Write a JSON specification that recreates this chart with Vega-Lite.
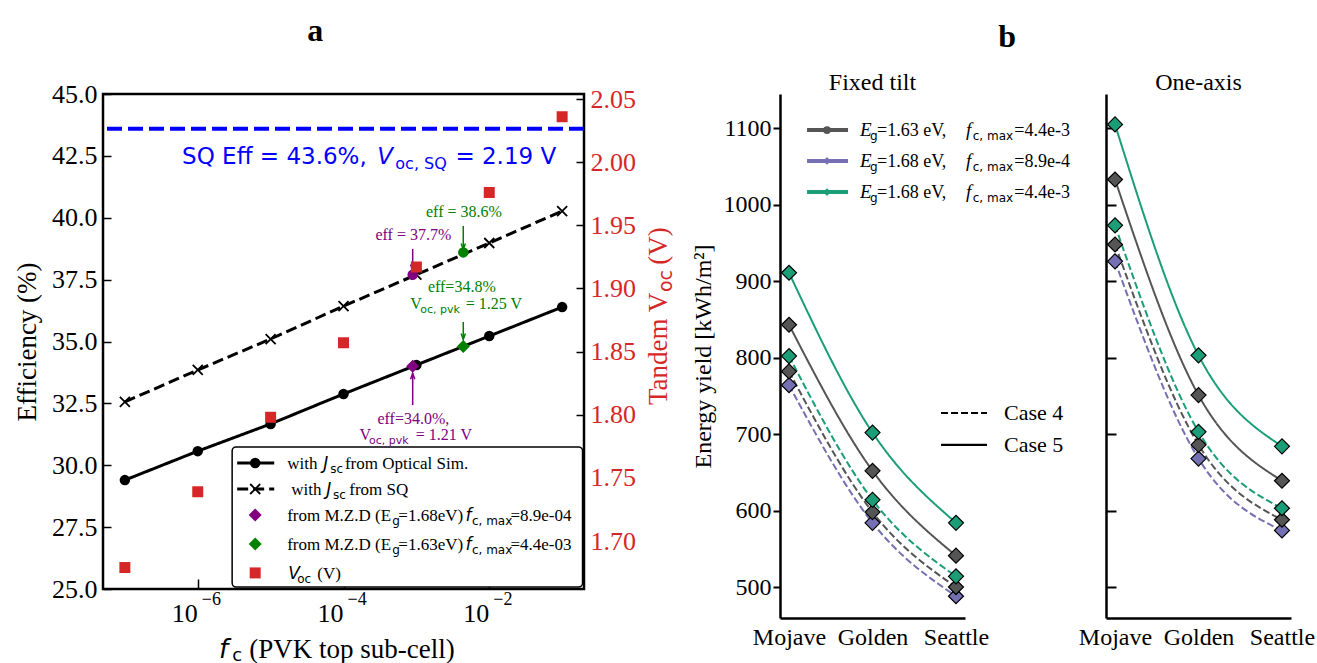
{
  "$schema": "https://vega.github.io/schema/vega-lite/v6.json",
  "padding": {"left": 12, "top": 13, "right": 5, "bottom": 5},
  "bounds": "flush",
  "spacing": 196,
  "config": {
    "font": "Liberation Serif",
    "view": {"stroke": null},
    "axis": {"grid": false, "labelColor": "black", "tickColor": "black", "domainColor": "black", "titleColor": "black", "titleFontWeight": "normal", "labelFont": "Liberation Serif", "titleFont": "Liberation Serif"}
  },
  "resolve": {"scale": {"color": "independent", "strokeDash": "independent", "shape": "independent"}},
  "datasets": {
    "main": [
      {"fc": 1e-7, "optical": 29.40, "sq": 32.56, "voc": 1.679},
      {"fc": 1e-6, "optical": 30.57, "sq": 33.85, "voc": 1.739},
      {"fc": 1e-5, "optical": 31.67, "sq": 35.10, "voc": 1.798},
      {"fc": 1e-4, "optical": 32.88, "sq": 36.43, "voc": 1.857},
      {"fc": 1e-3, "optical": 34.05, "sq": 37.70, "voc": 1.917},
      {"fc": 1e-2, "optical": 35.22, "sq": 38.98, "voc": 1.976},
      {"fc": 1e-1, "optical": 36.39, "sq": 40.27, "voc": 2.036}
    ],
    "mzd": [
      {"fc": 8.9e-4, "grp": "1.68", "optical": 34.0, "sq": 37.7},
      {"fc": 4.4e-3, "grp": "1.63", "optical": 34.8, "sq": 38.6}
    ],
    "arrows": [
      {"fc": 8.9e-4, "grp": "1.68", "eff": 38.74, "eff2": 37.87, "dir": "down"},
      {"fc": 4.4e-3, "grp": "1.63", "eff": 39.67, "eff2": 38.72, "dir": "down"},
      {"fc": 4.4e-3, "grp": "1.63", "eff": 35.79, "eff2": 35.08, "dir": "down"},
      {"fc": 8.9e-4, "grp": "1.68", "eff": 32.43, "eff2": 33.72, "dir": "up"}
    ],
    "legLines": [
      {"method": "optical", "fc": 3.475e-6, "fc2": 1.12e-5, "eff": 30.09},
      {"method": "sq", "fc": 3.475e-6, "fc2": 1.12e-5, "eff": 29.04}
    ],
    "legMarks": [
      {"m": "optical", "fc": 6.14e-6, "eff": 30.09},
      {"m": "sq", "fc": 6.14e-6, "eff": 29.04},
      {"m": "1.68", "fc": 6.14e-6, "eff": 27.99},
      {"m": "1.63", "fc": 6.14e-6, "eff": 26.82},
      {"m": "voc", "fc": 6.14e-6, "eff": 25.65}
    ],
    "txtA": [
      {"blk": "sq", "k": "n", "t": "SQ Eff = 43.6%,", "fc": 6.1e-7, "eff": 42.17},
      {"blk": "sq", "k": "i", "t": "V", "fc": 2.909e-4, "eff": 42.17},
      {"blk": "sq", "k": "s", "t": "oc, SQ", "fc": 5.14e-4, "eff": 41.97},
      {"blk": "sq", "k": "n", "t": "= 2.19 V", "fc": 3.43e-3, "eff": 42.17},
      {"blk": "ann", "grp": "1.68", "k": "c", "t": "eff = 37.7%", "fc": 9.08e-4, "eff": 39.10},
      {"blk": "ann", "grp": "1.63", "k": "c", "t": "eff = 38.6%", "fc": 4.49e-3, "eff": 40.03},
      {"blk": "ann", "grp": "1.63", "k": "c", "t": "eff=34.8%", "fc": 4.2e-3, "eff": 37.0},
      {"blk": "ann", "grp": "1.63", "k": "n", "t": "V", "fc": 8.26e-4, "eff": 36.31},
      {"blk": "ann", "grp": "1.63", "k": "s", "t": "oc, pvk", "fc": 1.132e-3, "eff": 36.15},
      {"blk": "ann", "grp": "1.63", "k": "n", "t": "= 1.25 V", "fc": 4.75e-3, "eff": 36.31},
      {"blk": "ann", "grp": "1.68", "k": "c", "t": "eff=34.0%,", "fc": 9.08e-4, "eff": 31.67},
      {"blk": "ann", "grp": "1.68", "k": "n", "t": "V", "fc": 1.663e-4, "eff": 31.02},
      {"blk": "ann", "grp": "1.68", "k": "s", "t": "oc, pvk", "fc": 2.24e-4, "eff": 30.86},
      {"blk": "ann", "grp": "1.68", "k": "n", "t": "= 1.21 V", "fc": 9.77e-4, "eff": 31.02},
      {"blk": "leg", "k": "n", "t": "with", "fc": 1.687e-5, "eff": 29.85},
      {"blk": "leg", "k": "i", "t": "J", "fc": 5.27e-5, "eff": 29.85},
      {"blk": "leg", "k": "s", "t": "sc", "fc": 6.6e-5, "eff": 29.69},
      {"blk": "leg", "k": "n", "t": "from Optical Sim.", "fc": 1.047e-4, "eff": 29.85},
      {"blk": "leg", "k": "n", "t": "with", "fc": 1.914e-5, "eff": 28.80},
      {"blk": "leg", "k": "i", "t": "J", "fc": 5.79e-5, "eff": 28.80},
      {"blk": "leg", "k": "s", "t": "sc", "fc": 7.2e-5, "eff": 28.64},
      {"blk": "leg", "k": "n", "t": "from SQ", "fc": 1.2e-4, "eff": 28.80},
      {"blk": "leg", "k": "n", "t": "from M.Z.D (E", "fc": 1.687e-5, "eff": 27.75},
      {"blk": "leg", "k": "s", "t": "g", "fc": 4.68e-4, "eff": 27.59},
      {"blk": "leg", "k": "n", "t": "=1.68eV)", "fc": 5.65e-4, "eff": 27.75},
      {"blk": "leg", "k": "i", "t": "f", "fc": 4.71e-3, "eff": 27.75},
      {"blk": "leg", "k": "s", "t": "c, max", "fc": 5.78e-3, "eff": 27.59},
      {"blk": "leg", "k": "n", "t": "=8.9e-04", "fc": 1.954e-2, "eff": 27.75},
      {"blk": "leg", "k": "n", "t": "from M.Z.D (E", "fc": 1.687e-5, "eff": 26.58},
      {"blk": "leg", "k": "s", "t": "g", "fc": 4.68e-4, "eff": 26.42},
      {"blk": "leg", "k": "n", "t": "=1.63eV)", "fc": 5.65e-4, "eff": 26.58},
      {"blk": "leg", "k": "i", "t": "f", "fc": 4.71e-3, "eff": 26.58},
      {"blk": "leg", "k": "s", "t": "c, max", "fc": 5.78e-3, "eff": 26.42},
      {"blk": "leg", "k": "n", "t": "=4.4e-03", "fc": 1.954e-2, "eff": 26.58},
      {"blk": "leg", "k": "i", "t": "V", "fc": 1.74e-5, "eff": 25.40},
      {"blk": "leg", "k": "s", "t": "oc", "fc": 2.32e-5, "eff": 25.24},
      {"blk": "leg", "k": "n", "t": "(V)", "fc": 4.37e-5, "eff": 25.40},
      {"blk": "xt", "k": "i", "t": "f", "fc": 1.963e-6, "eff": 22.2},
      {"blk": "xt", "k": "s", "t": "c", "fc": 2.965e-6, "eff": 22.08},
      {"blk": "xt", "k": "n", "t": "(PVK top sub-cell)", "fc": 5.076e-6, "eff": 22.2},
      {"blk": "yt", "k": "n", "t": "Tandem V", "fc": 2.714, "eff": 32.43},
      {"blk": "yt", "k": "s", "t": "oc", "fc": 3.18, "eff": 37.0},
      {"blk": "yt", "k": "n", "t": "(V)", "fc": 2.714, "eff": 38.1},
      {"blk": "tick", "k": "n", "t": "10", "fc": 1e-6, "eff": 23.67},
      {"blk": "tick", "k": "p", "t": "−6", "fc": 1.135e-6, "eff": 24.35},
      {"blk": "tick", "k": "n", "t": "10", "fc": 1e-4, "eff": 23.67},
      {"blk": "tick", "k": "p", "t": "−4", "fc": 1.135e-4, "eff": 24.35},
      {"blk": "tick", "k": "n", "t": "10", "fc": 1e-2, "eff": 23.67},
      {"blk": "tick", "k": "p", "t": "−2", "fc": 1.135e-2, "eff": 24.35},
      {"blk": "title", "k": "n", "t": "a", "fc": 4.09e-5, "eff": 47.14}
    ],
    "yieldB": [
      {"mount": "Fixed tilt", "series": "1.68/8.9e-4", "case": "Case 4", "site": "Mojave", "yield": 764},
      {"mount": "Fixed tilt", "series": "1.68/8.9e-4", "case": "Case 4", "site": "Golden", "yield": 584},
      {"mount": "Fixed tilt", "series": "1.68/8.9e-4", "case": "Case 4", "site": "Seattle", "yield": 488},
      {"mount": "Fixed tilt", "series": "1.63/4.4e-3", "case": "Case 4", "site": "Mojave", "yield": 782},
      {"mount": "Fixed tilt", "series": "1.63/4.4e-3", "case": "Case 4", "site": "Golden", "yield": 598},
      {"mount": "Fixed tilt", "series": "1.63/4.4e-3", "case": "Case 4", "site": "Seattle", "yield": 500},
      {"mount": "Fixed tilt", "series": "1.68/4.4e-3", "case": "Case 4", "site": "Mojave", "yield": 802},
      {"mount": "Fixed tilt", "series": "1.68/4.4e-3", "case": "Case 4", "site": "Golden", "yield": 614},
      {"mount": "Fixed tilt", "series": "1.68/4.4e-3", "case": "Case 4", "site": "Seattle", "yield": 514},
      {"mount": "Fixed tilt", "series": "1.63/4.4e-3", "case": "Case 5", "site": "Mojave", "yield": 843},
      {"mount": "Fixed tilt", "series": "1.63/4.4e-3", "case": "Case 5", "site": "Golden", "yield": 652},
      {"mount": "Fixed tilt", "series": "1.63/4.4e-3", "case": "Case 5", "site": "Seattle", "yield": 541},
      {"mount": "Fixed tilt", "series": "1.68/4.4e-3", "case": "Case 5", "site": "Mojave", "yield": 911},
      {"mount": "Fixed tilt", "series": "1.68/4.4e-3", "case": "Case 5", "site": "Golden", "yield": 702},
      {"mount": "Fixed tilt", "series": "1.68/4.4e-3", "case": "Case 5", "site": "Seattle", "yield": 584},
      {"mount": "One-axis", "series": "1.68/8.9e-4", "case": "Case 4", "site": "Mojave", "yield": 926},
      {"mount": "One-axis", "series": "1.68/8.9e-4", "case": "Case 4", "site": "Golden", "yield": 668},
      {"mount": "One-axis", "series": "1.68/8.9e-4", "case": "Case 4", "site": "Seattle", "yield": 574},
      {"mount": "One-axis", "series": "1.63/4.4e-3", "case": "Case 4", "site": "Mojave", "yield": 948},
      {"mount": "One-axis", "series": "1.63/4.4e-3", "case": "Case 4", "site": "Golden", "yield": 686},
      {"mount": "One-axis", "series": "1.63/4.4e-3", "case": "Case 4", "site": "Seattle", "yield": 588},
      {"mount": "One-axis", "series": "1.68/4.4e-3", "case": "Case 4", "site": "Mojave", "yield": 973},
      {"mount": "One-axis", "series": "1.68/4.4e-3", "case": "Case 4", "site": "Golden", "yield": 703},
      {"mount": "One-axis", "series": "1.68/4.4e-3", "case": "Case 4", "site": "Seattle", "yield": 603},
      {"mount": "One-axis", "series": "1.63/4.4e-3", "case": "Case 5", "site": "Mojave", "yield": 1033},
      {"mount": "One-axis", "series": "1.63/4.4e-3", "case": "Case 5", "site": "Golden", "yield": 751},
      {"mount": "One-axis", "series": "1.63/4.4e-3", "case": "Case 5", "site": "Seattle", "yield": 639},
      {"mount": "One-axis", "series": "1.68/4.4e-3", "case": "Case 5", "site": "Mojave", "yield": 1105},
      {"mount": "One-axis", "series": "1.68/4.4e-3", "case": "Case 5", "site": "Golden", "yield": 803},
      {"mount": "One-axis", "series": "1.68/4.4e-3", "case": "Case 5", "site": "Seattle", "yield": 684}
    ],
    "panelTitles": [
      {"mount": "Fixed tilt", "site": "Golden", "yield": 1150.1},
      {"mount": "One-axis", "site": "Golden", "yield": 1150.1}
    ],
    "legB": [
      {"series": "1.63/4.4e-3", "lx": 0.216, "lx2": 0.707, "lm": 0.455, "yield": 1097.7},
      {"series": "1.68/8.9e-4", "lx": 0.216, "lx2": 0.707, "lm": 0.455, "yield": 1057.2},
      {"series": "1.68/4.4e-3", "lx": 0.216, "lx2": 0.707, "lm": 0.455, "yield": 1016.6}
    ],
    "caseB": [
      {"case": "Case 4", "lx": 1.821, "lx2": 2.372, "yield": 727.6},
      {"case": "Case 5", "lx": 1.821, "lx2": 2.372, "yield": 685.8}
    ],
    "txtB": [
      {"k": "i", "t": "E", "lx": 0.851, "yield": 1089.9},
      {"k": "s", "t": "g", "lx": 0.970, "yield": 1084.7},
      {"k": "n", "t": "=1.63 eV,", "lx": 1.054, "yield": 1089.9},
      {"k": "i", "t": "f", "lx": 2.121, "yield": 1089.9},
      {"k": "s", "t": "c, max", "lx": 2.201, "yield": 1084.7},
      {"k": "n", "t": "=4.4e-3", "lx": 2.699, "yield": 1089.9},
      {"k": "i", "t": "E", "lx": 0.851, "yield": 1049.3},
      {"k": "s", "t": "g", "lx": 0.970, "yield": 1044.1},
      {"k": "n", "t": "=1.68 eV,", "lx": 1.054, "yield": 1049.3},
      {"k": "i", "t": "f", "lx": 2.121, "yield": 1049.3},
      {"k": "s", "t": "c, max", "lx": 2.201, "yield": 1044.1},
      {"k": "n", "t": "=8.9e-4", "lx": 2.699, "yield": 1049.3},
      {"k": "i", "t": "E", "lx": 0.851, "yield": 1008.8},
      {"k": "s", "t": "g", "lx": 0.970, "yield": 1003.6},
      {"k": "n", "t": "=1.68 eV,", "lx": 1.054, "yield": 1008.8},
      {"k": "i", "t": "f", "lx": 2.121, "yield": 1008.8},
      {"k": "s", "t": "c, max", "lx": 2.201, "yield": 1003.6},
      {"k": "n", "t": "=4.4e-3", "lx": 2.699, "yield": 1008.8},
      {"k": "case", "t": "Case 4", "lx": 2.576, "yield": 718.5},
      {"k": "case", "t": "Case 5", "lx": 2.576, "yield": 676.6},
      {"k": "b", "t": "b", "lx": 2.612, "yield": 1206.3}
    ]
  },
  "hconcat": [
    {
      "width": 481,
      "height": 495,
      "view": {"stroke": "black", "strokeWidth": 2.5},
      "layer": [
        {
          "layer": [
            {
              "data": {"values": [{"eff": 43.6}]},
              "mark": {"type": "rule", "color": "blue", "strokeWidth": 4, "strokeDash": [15, 6]},
              "encoding": {
                "y": {"field": "eff", "type": "quantitative", "scale": {"domain": [25, 45], "nice": false, "zero": false},
                  "axis": {"orient": "left", "values": [25, 27.5, 30, 32.5, 35, 37.5, 40, 42.5, 45], "format": ".1f", "tickSize": -8, "tickWidth": 1.5, "labelFontSize": 26, "labelPadding": 14, "title": "Efficiency (%)", "titleFontSize": 27, "titlePadding": 10, "domain": false}}
              }
            },
            {
              "data": {"name": "main"},
              "transform": [{"fold": ["optical", "sq"], "as": ["method", "eff"]}],
              "mark": {"type": "line", "color": "black", "strokeWidth": 3},
              "encoding": {
                "x": {"field": "fc", "type": "quantitative", "scale": {"type": "log", "domain": [5.012e-8, 0.1995], "nice": false},
                  "axis": {"values": [1e-6, 1e-4, 1e-2], "labels": false, "tickSize": -10, "tickWidth": 1.5, "domain": false, "title": null}},
                "y": {"field": "eff", "type": "quantitative"},
                "strokeDash": {"field": "method", "type": "nominal", "scale": {"domain": ["optical", "sq"], "range": [[1, 0], [11, 5]]}, "legend": null}
              }
            },
            {
              "data": {"name": "main"},
              "transform": [{"fold": ["sq"], "as": ["method", "eff"]}],
              "mark": {"type": "point", "shape": "M-1,-1L1,1M-1,1L1,-1", "filled": false, "size": 100, "color": "black", "strokeWidth": 1.8, "opacity": 1},
              "encoding": {"x": {"field": "fc", "type": "quantitative"}, "y": {"field": "eff", "type": "quantitative"}}
            },
            {
              "data": {"name": "main"},
              "transform": [{"fold": ["optical"], "as": ["method", "eff"]}],
              "mark": {"type": "circle", "size": 110, "color": "black", "opacity": 1},
              "encoding": {"x": {"field": "fc", "type": "quantitative"}, "y": {"field": "eff", "type": "quantitative"}}
            },
            {
              "data": {"name": "mzd"},
              "transform": [{"fold": ["sq"], "as": ["method", "eff"]}],
              "mark": {"type": "circle", "size": 110, "opacity": 1},
              "encoding": {"x": {"field": "fc", "type": "quantitative"}, "y": {"field": "eff", "type": "quantitative"},
                "color": {"field": "grp", "type": "nominal", "scale": {"domain": ["1.68", "1.63"], "range": ["purple", "green"]}, "legend": null}}
            },
            {
              "data": {"name": "mzd"},
              "transform": [{"fold": ["optical"], "as": ["method", "eff"]}],
              "mark": {"type": "point", "shape": "diamond", "filled": true, "size": 170, "opacity": 1},
              "encoding": {"x": {"field": "fc", "type": "quantitative"}, "y": {"field": "eff", "type": "quantitative"},
                "color": {"field": "grp", "type": "nominal", "legend": null}}
            },
            {
              "data": {"name": "arrows"},
              "mark": {"type": "rule", "strokeWidth": 1.5},
              "encoding": {"x": {"field": "fc", "type": "quantitative"}, "y": {"field": "eff", "type": "quantitative"}, "y2": {"field": "eff2"},
                "color": {"field": "grp", "type": "nominal", "legend": null}}
            },
            {
              "data": {"name": "arrows"},
              "mark": {"type": "point", "filled": false, "size": 36, "strokeWidth": 1.5, "opacity": 1},
              "encoding": {"x": {"field": "fc", "type": "quantitative"}, "y": {"field": "eff2", "type": "quantitative"},
                "shape": {"field": "dir", "type": "nominal", "scale": {"domain": ["down", "up"], "range": ["M-0.7,-2L0,0L0.7,-2", "M-0.7,2L0,0L0.7,2"]}, "legend": null},
                "color": {"field": "grp", "type": "nominal", "legend": null}}
            },
            {
              "data": {"values": [{"fc": 2.965e-6, "fc2": 0.1905, "eff": 30.74, "eff2": 25.08}]},
              "mark": {"type": "rect", "fill": "white", "stroke": "black", "strokeWidth": 1.5, "cornerRadius": 4},
              "encoding": {"x": {"field": "fc", "type": "quantitative"}, "x2": {"field": "fc2"}, "y": {"field": "eff", "type": "quantitative"}, "y2": {"field": "eff2"}}
            },
            {
              "data": {"name": "legLines"},
              "mark": {"type": "rule", "color": "black", "strokeWidth": 3},
              "encoding": {"x": {"field": "fc", "type": "quantitative"}, "x2": {"field": "fc2"}, "y": {"field": "eff", "type": "quantitative"},
                "strokeDash": {"field": "method", "type": "nominal", "legend": null}}
            },
            {
              "data": {"name": "legMarks"},
              "transform": [{"filter": "datum.m == 'optical'"}],
              "mark": {"type": "circle", "size": 110, "color": "black", "opacity": 1},
              "encoding": {"x": {"field": "fc", "type": "quantitative"}, "y": {"field": "eff", "type": "quantitative"}}
            },
            {
              "data": {"name": "legMarks"},
              "transform": [{"filter": "datum.m == 'sq'"}],
              "mark": {"type": "point", "shape": "M-1,-1L1,1M-1,1L1,-1", "filled": false, "size": 100, "color": "black", "strokeWidth": 1.8, "opacity": 1},
              "encoding": {"x": {"field": "fc", "type": "quantitative"}, "y": {"field": "eff", "type": "quantitative"}}
            },
            {
              "data": {"name": "legMarks"},
              "transform": [{"filter": "datum.m == '1.68' || datum.m == '1.63'"}],
              "mark": {"type": "point", "shape": "diamond", "filled": true, "size": 170, "opacity": 1},
              "encoding": {"x": {"field": "fc", "type": "quantitative"}, "y": {"field": "eff", "type": "quantitative"},
                "color": {"field": "m", "type": "nominal", "legend": null}}
            },
            {
              "data": {"name": "legMarks"},
              "transform": [{"filter": "datum.m == 'voc'"}],
              "mark": {"type": "square", "size": 121, "color": "#d62728", "opacity": 1},
              "encoding": {"x": {"field": "fc", "type": "quantitative"}, "y": {"field": "eff", "type": "quantitative"}}
            },
            {
              "data": {"name": "txtA"},
              "transform": [{"filter": "datum.blk == 'sq' && datum.k == 'n'"}],
              "mark": {"type": "text", "align": "left", "baseline": "alphabetic", "font": "DejaVu Sans", "fontSize": 23, "color": "blue", "clip": false},
              "encoding": {"x": {"field": "fc", "type": "quantitative"}, "y": {"field": "eff", "type": "quantitative"}, "text": {"field": "t"}}
            },
            {
              "data": {"name": "txtA"},
              "transform": [{"filter": "datum.blk == 'sq' && datum.k == 'i'"}],
              "mark": {"type": "text", "align": "left", "baseline": "alphabetic", "font": "DejaVu Sans", "fontStyle": "italic", "fontSize": 23, "color": "blue", "clip": false},
              "encoding": {"x": {"field": "fc", "type": "quantitative"}, "y": {"field": "eff", "type": "quantitative"}, "text": {"field": "t"}}
            },
            {
              "data": {"name": "txtA"},
              "transform": [{"filter": "datum.blk == 'sq' && datum.k == 's'"}],
              "mark": {"type": "text", "align": "left", "baseline": "alphabetic", "font": "DejaVu Sans", "fontSize": 16, "color": "blue", "clip": false},
              "encoding": {"x": {"field": "fc", "type": "quantitative"}, "y": {"field": "eff", "type": "quantitative"}, "text": {"field": "t"}}
            },
            {
              "data": {"name": "txtA"},
              "transform": [{"filter": "datum.blk == 'ann' && datum.k == 'c'"}],
              "mark": {"type": "text", "align": "center", "baseline": "alphabetic", "font": "Liberation Serif", "fontSize": 16, "clip": false},
              "encoding": {"x": {"field": "fc", "type": "quantitative"}, "y": {"field": "eff", "type": "quantitative"}, "text": {"field": "t"},
                "color": {"field": "grp", "type": "nominal", "legend": null}}
            },
            {
              "data": {"name": "txtA"},
              "transform": [{"filter": "datum.blk == 'ann' && datum.k == 'n'"}],
              "mark": {"type": "text", "align": "left", "baseline": "alphabetic", "font": "Liberation Serif", "fontSize": 16, "clip": false},
              "encoding": {"x": {"field": "fc", "type": "quantitative"}, "y": {"field": "eff", "type": "quantitative"}, "text": {"field": "t"},
                "color": {"field": "grp", "type": "nominal", "legend": null}}
            },
            {
              "data": {"name": "txtA"},
              "transform": [{"filter": "datum.blk == 'ann' && datum.k == 's'"}],
              "mark": {"type": "text", "align": "left", "baseline": "alphabetic", "font": "DejaVu Sans", "fontSize": 11, "clip": false},
              "encoding": {"x": {"field": "fc", "type": "quantitative"}, "y": {"field": "eff", "type": "quantitative"}, "text": {"field": "t"},
                "color": {"field": "grp", "type": "nominal", "legend": null}}
            },
            {
              "data": {"name": "txtA"},
              "transform": [{"filter": "datum.blk == 'leg' && datum.k == 'n'"}],
              "mark": {"type": "text", "align": "left", "baseline": "alphabetic", "font": "Liberation Serif", "fontSize": 17, "color": "black", "clip": false},
              "encoding": {"x": {"field": "fc", "type": "quantitative"}, "y": {"field": "eff", "type": "quantitative"}, "text": {"field": "t"}}
            },
            {
              "data": {"name": "txtA"},
              "transform": [{"filter": "datum.blk == 'leg' && datum.k == 'i'"}],
              "mark": {"type": "text", "align": "left", "baseline": "alphabetic", "font": "DejaVu Sans", "fontStyle": "italic", "fontSize": 17, "color": "black", "clip": false},
              "encoding": {"x": {"field": "fc", "type": "quantitative"}, "y": {"field": "eff", "type": "quantitative"}, "text": {"field": "t"}}
            },
            {
              "data": {"name": "txtA"},
              "transform": [{"filter": "datum.blk == 'leg' && datum.k == 's'"}],
              "mark": {"type": "text", "align": "left", "baseline": "alphabetic", "font": "DejaVu Sans", "fontSize": 12, "color": "black", "clip": false},
              "encoding": {"x": {"field": "fc", "type": "quantitative"}, "y": {"field": "eff", "type": "quantitative"}, "text": {"field": "t"}}
            },
            {
              "data": {"name": "txtA"},
              "transform": [{"filter": "datum.blk == 'xt' && datum.k == 'i'"}],
              "mark": {"type": "text", "align": "left", "baseline": "alphabetic", "font": "DejaVu Sans", "fontStyle": "italic", "fontSize": 26, "color": "black", "clip": false},
              "encoding": {"x": {"field": "fc", "type": "quantitative"}, "y": {"field": "eff", "type": "quantitative"}, "text": {"field": "t"}}
            },
            {
              "data": {"name": "txtA"},
              "transform": [{"filter": "datum.blk == 'xt' && datum.k == 's'"}],
              "mark": {"type": "text", "align": "left", "baseline": "alphabetic", "font": "DejaVu Sans", "fontSize": 18, "color": "black", "clip": false},
              "encoding": {"x": {"field": "fc", "type": "quantitative"}, "y": {"field": "eff", "type": "quantitative"}, "text": {"field": "t"}}
            },
            {
              "data": {"name": "txtA"},
              "transform": [{"filter": "datum.blk == 'xt' && datum.k == 'n'"}],
              "mark": {"type": "text", "align": "left", "baseline": "alphabetic", "font": "Liberation Serif", "fontSize": 27, "color": "black", "clip": false},
              "encoding": {"x": {"field": "fc", "type": "quantitative"}, "y": {"field": "eff", "type": "quantitative"}, "text": {"field": "t"}}
            },
            {
              "data": {"name": "txtA"},
              "transform": [{"filter": "datum.blk == 'yt' && datum.k == 'n'"}],
              "mark": {"type": "text", "align": "left", "baseline": "alphabetic", "angle": 270, "font": "Liberation Serif", "fontSize": 27, "color": "#d62728", "clip": false},
              "encoding": {"x": {"field": "fc", "type": "quantitative"}, "y": {"field": "eff", "type": "quantitative"}, "text": {"field": "t"}}
            },
            {
              "data": {"name": "txtA"},
              "transform": [{"filter": "datum.blk == 'yt' && datum.k == 's'"}],
              "mark": {"type": "text", "align": "left", "baseline": "alphabetic", "angle": 270, "font": "DejaVu Sans", "fontSize": 19, "color": "#d62728", "clip": false},
              "encoding": {"x": {"field": "fc", "type": "quantitative"}, "y": {"field": "eff", "type": "quantitative"}, "text": {"field": "t"}}
            },
            {
              "data": {"name": "txtA"},
              "transform": [{"filter": "datum.blk == 'tick' && datum.k == 'n'"}],
              "mark": {"type": "text", "align": "right", "baseline": "alphabetic", "font": "Liberation Serif", "fontSize": 26, "color": "black", "clip": false},
              "encoding": {"x": {"field": "fc", "type": "quantitative"}, "y": {"field": "eff", "type": "quantitative"}, "text": {"field": "t"}}
            },
            {
              "data": {"name": "txtA"},
              "transform": [{"filter": "datum.blk == 'tick' && datum.k == 'p'"}],
              "mark": {"type": "text", "align": "left", "baseline": "alphabetic", "font": "Liberation Serif", "fontSize": 18, "color": "black", "clip": false},
              "encoding": {"x": {"field": "fc", "type": "quantitative"}, "y": {"field": "eff", "type": "quantitative"}, "text": {"field": "t"}}
            },
            {
              "data": {"name": "txtA"},
              "transform": [{"filter": "datum.blk == 'title'"}],
              "mark": {"type": "text", "align": "center", "baseline": "alphabetic", "font": "Liberation Serif", "fontWeight": "bold", "fontSize": 32, "color": "black", "clip": false},
              "encoding": {"x": {"field": "fc", "type": "quantitative"}, "y": {"field": "eff", "type": "quantitative"}, "text": {"field": "t"}}
            }
          ]
        },
        {
          "data": {"name": "main"},
          "mark": {"type": "square", "size": 121, "color": "#d62728", "opacity": 1},
          "encoding": {
            "x": {"field": "fc", "type": "quantitative"},
            "y": {"field": "voc", "type": "quantitative", "scale": {"domain": [1.662, 2.054], "nice": false, "zero": false},
              "axis": {"orient": "right", "values": [1.7, 1.75, 1.8, 1.85, 1.9, 1.95, 2.0, 2.05], "format": ".2f", "tickSize": -8, "tickWidth": 1.5, "labelFontSize": 26, "labelColor": "#d62728", "labelPadding": 14, "title": null, "domain": false}}
          }
        }
      ],
      "resolve": {"scale": {"y": "independent"}}
    },
    {
      "bounds": "flush",
      "spacing": 141,
      "hconcat": [
        {
          "width": 185,
          "height": 524,
          "view": {"stroke": null},
          "layer": [
            {
              "layer": [
                {
                  "data": {"name": "yieldB"},
                  "transform": [{"filter": "datum.mount == 'Fixed tilt'"}],
                  "mark": {"type": "line", "interpolate": "monotone", "strokeWidth": 2},
                  "encoding": {
                    "x": {"field": "site", "type": "nominal", "sort": ["Mojave", "Golden", "Seattle"], "scale": {"type": "point", "padding": 0.108},
                      "axis": {"labelAngle": 0, "labelFontSize": 24, "labelPadding": 7, "ticks": false, "domainWidth": 2.5, "title": null}},
                    "y": {"field": "yield", "type": "quantitative", "scale": {"domain": [459.5, 1144.8], "nice": false, "zero": false},
                      "axis": {"values": [500, 600, 700, 800, 900, 1000, 1100], "format": "d", "tickSize": 7, "tickWidth": 2, "labelFontSize": 24, "labelPadding": 2, "domainWidth": 2.5, "title": "Energy yield [kWh/m²]", "titleFontSize": 24, "titlePadding": 8}},
                    "color": {"field": "series", "type": "nominal", "scale": {"domain": ["1.63/4.4e-3", "1.68/8.9e-4", "1.68/4.4e-3"], "range": ["#555555", "#7570b3", "#1b9e77"]}, "legend": null},
                    "strokeDash": {"field": "case", "type": "nominal", "scale": {"domain": ["Case 4", "Case 5"], "range": [[7, 3], [1, 0]]}, "legend": null}
                  }
                },
                {
                  "data": {"name": "yieldB"},
                  "transform": [{"filter": "datum.mount == 'Fixed tilt'"}],
                  "mark": {"type": "point", "shape": "diamond", "filled": true, "size": 225, "stroke": "black", "strokeWidth": 1.2, "opacity": 1},
                  "encoding": {
                    "x": {"field": "site", "type": "nominal", "sort": ["Mojave", "Golden", "Seattle"]},
                    "y": {"field": "yield", "type": "quantitative"},
                    "color": {"field": "series", "type": "nominal", "legend": null}
                  }
                },
                {
                  "data": {"name": "panelTitles"},
                  "transform": [{"filter": "datum.mount == 'Fixed tilt'"}],
                  "mark": {"type": "text", "align": "center", "baseline": "alphabetic", "font": "Liberation Serif", "fontSize": 24, "color": "black", "clip": false},
                  "encoding": {
                    "x": {"field": "site", "type": "nominal", "sort": ["Mojave", "Golden", "Seattle"]},
                    "y": {"field": "yield", "type": "quantitative"},
                    "text": {"field": "mount"}
                  }
                }
              ]
            },
            {
              "layer": [
                {
                  "data": {"name": "legB"},
                  "mark": {"type": "rule", "strokeWidth": 4},
                  "encoding": {
                    "x": {"field": "lx", "type": "quantitative", "scale": {"domain": [-0.108, 2.108], "nice": false, "zero": false}, "axis": null},
                    "x2": {"field": "lx2"},
                    "y": {"field": "yield", "type": "quantitative"},
                    "color": {"field": "series", "type": "nominal", "legend": null}
                  }
                },
                {
                  "data": {"name": "legB"},
                  "mark": {"type": "point", "filled": true, "size": 60, "opacity": 1},
                  "encoding": {
                    "x": {"field": "lm", "type": "quantitative"},
                    "y": {"field": "yield", "type": "quantitative"},
                    "color": {"field": "series", "type": "nominal", "legend": null},
                    "shape": {"field": "series", "type": "nominal", "scale": {"domain": ["1.63/4.4e-3", "1.68/8.9e-4", "1.68/4.4e-3"], "range": ["circle", "diamond", "diamond"]}, "legend": null}
                  }
                },
                {
                  "data": {"name": "caseB"},
                  "mark": {"type": "rule", "strokeWidth": 2.2, "color": "black"},
                  "encoding": {
                    "x": {"field": "lx", "type": "quantitative"},
                    "x2": {"field": "lx2"},
                    "y": {"field": "yield", "type": "quantitative"},
                    "strokeDash": {"field": "case", "type": "nominal", "legend": null}
                  }
                },
                {
                  "data": {"name": "txtB"},
                  "transform": [{"filter": "datum.k == 'i'"}],
                  "mark": {"type": "text", "align": "left", "baseline": "alphabetic", "font": "Liberation Serif", "fontStyle": "italic", "fontSize": 19, "color": "black", "clip": false},
                  "encoding": {"x": {"field": "lx", "type": "quantitative"}, "y": {"field": "yield", "type": "quantitative"}, "text": {"field": "t"}}
                },
                {
                  "data": {"name": "txtB"},
                  "transform": [{"filter": "datum.k == 's'"}],
                  "mark": {"type": "text", "align": "left", "baseline": "alphabetic", "font": "DejaVu Sans", "fontSize": 12, "color": "black", "clip": false},
                  "encoding": {"x": {"field": "lx", "type": "quantitative"}, "y": {"field": "yield", "type": "quantitative"}, "text": {"field": "t"}}
                },
                {
                  "data": {"name": "txtB"},
                  "transform": [{"filter": "datum.k == 'n'"}],
                  "mark": {"type": "text", "align": "left", "baseline": "alphabetic", "font": "Liberation Serif", "fontSize": 18, "color": "black", "clip": false},
                  "encoding": {"x": {"field": "lx", "type": "quantitative"}, "y": {"field": "yield", "type": "quantitative"}, "text": {"field": "t"}}
                },
                {
                  "data": {"name": "txtB"},
                  "transform": [{"filter": "datum.k == 'case'"}],
                  "mark": {"type": "text", "align": "left", "baseline": "alphabetic", "font": "Liberation Serif", "fontSize": 22, "color": "black", "clip": false},
                  "encoding": {"x": {"field": "lx", "type": "quantitative"}, "y": {"field": "yield", "type": "quantitative"}, "text": {"field": "t"}}
                },
                {
                  "data": {"name": "txtB"},
                  "transform": [{"filter": "datum.k == 'b'"}],
                  "mark": {"type": "text", "align": "center", "baseline": "alphabetic", "font": "Liberation Serif", "fontWeight": "bold", "fontSize": 32, "color": "black", "clip": false},
                  "encoding": {"x": {"field": "lx", "type": "quantitative"}, "y": {"field": "yield", "type": "quantitative"}, "text": {"field": "t"}}
                }
              ]
            }
          ],
          "resolve": {"scale": {"x": "independent"}}
        },
        {
          "width": 185,
          "height": 524,
          "view": {"stroke": null},
          "layer": [
            {
              "data": {"name": "yieldB"},
              "transform": [{"filter": "datum.mount == 'One-axis'"}],
              "mark": {"type": "line", "interpolate": "monotone", "strokeWidth": 2},
              "encoding": {
                "x": {"field": "site", "type": "nominal", "sort": ["Mojave", "Golden", "Seattle"], "scale": {"type": "point", "padding": 0.108},
                  "axis": {"labelAngle": 0, "labelFontSize": 24, "labelPadding": 7, "ticks": false, "domainWidth": 2.5, "title": null}},
                "y": {"field": "yield", "type": "quantitative", "scale": {"domain": [459.5, 1144.8], "nice": false, "zero": false},
                  "axis": {"values": [500, 600, 700, 800, 900, 1000, 1100], "tickSize": -10, "tickWidth": 2, "labels": false, "domainWidth": 2.5, "title": null}},
                "color": {"field": "series", "type": "nominal", "scale": {"domain": ["1.63/4.4e-3", "1.68/8.9e-4", "1.68/4.4e-3"], "range": ["#555555", "#7570b3", "#1b9e77"]}, "legend": null},
                "strokeDash": {"field": "case", "type": "nominal", "scale": {"domain": ["Case 4", "Case 5"], "range": [[7, 3], [1, 0]]}, "legend": null}
              }
            },
            {
              "data": {"name": "yieldB"},
              "transform": [{"filter": "datum.mount == 'One-axis'"}],
              "mark": {"type": "point", "shape": "diamond", "filled": true, "size": 225, "stroke": "black", "strokeWidth": 1.2, "opacity": 1},
              "encoding": {
                "x": {"field": "site", "type": "nominal", "sort": ["Mojave", "Golden", "Seattle"]},
                "y": {"field": "yield", "type": "quantitative"},
                "color": {"field": "series", "type": "nominal", "legend": null}
              }
            },
            {
              "data": {"name": "panelTitles"},
              "transform": [{"filter": "datum.mount == 'One-axis'"}],
              "mark": {"type": "text", "align": "center", "baseline": "alphabetic", "font": "Liberation Serif", "fontSize": 24, "color": "black", "clip": false},
              "encoding": {
                "x": {"field": "site", "type": "nominal", "sort": ["Mojave", "Golden", "Seattle"]},
                "y": {"field": "yield", "type": "quantitative"},
                "text": {"field": "mount"}
              }
            }
          ]
        }
      ]
    }
  ]
}
